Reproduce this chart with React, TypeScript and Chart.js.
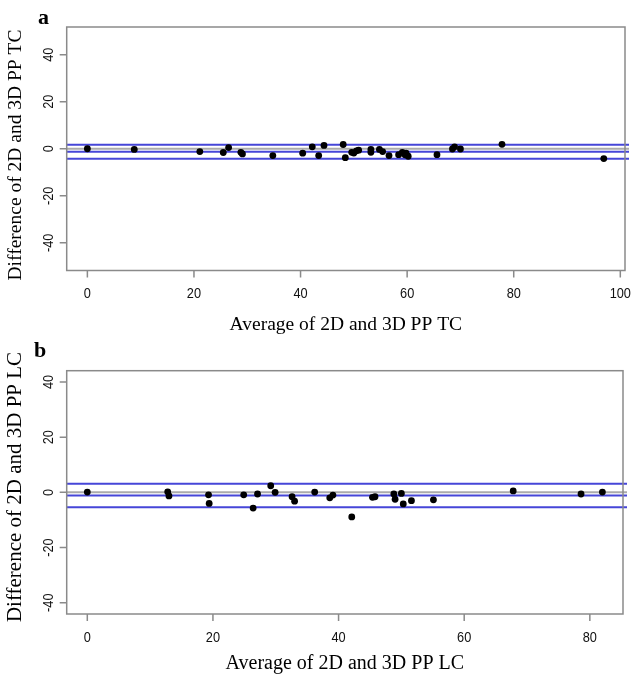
import React, { useEffect, useRef } from "react";
import { Chart, registerables } from "chart.js";

Chart.register(...registerables);

// ---------- Panel a: PP TC ----------
const tcAverage = [0, 8.8, 21.1, 25.5, 26.5, 28.8, 29.1, 34.8, 40.4, 42.2, 43.4, 44.4, 48.0, 48.4, 49.6, 50.0, 50.5, 50.9, 53.2, 53.2, 54.8, 55.4, 56.6, 58.4, 59.1, 59.6, 60.2, 59.8, 65.6, 68.5, 68.9, 70.0, 77.8, 96.9];
const tcDifference = [0, -0.3, -1.2, -1.6, 0.5, -1.5, -2.2, -2.9, -1.9, 0.8, -2.9, 1.4, 1.8, -3.8, -1.5, -1.8, -0.9, -0.6, -0.3, -1.5, -0.3, -1.2, -2.9, -2.5, -1.5, -2.6, -3.2, -1.9, -2.5, -0.1, 0.8, -0.1, 1.9, -4.2];
const tcMean = -1.3;
const tcUpper = 1.7;
const tcLower = -4.3;
const tcXTicks = [0, 20, 40, 60, 80, 100];
const tcXRange = [-3.88, 100.88];
const tcYRange = [-51.8, 51.8];

// ---------- Panel b: PP LC ----------
const lcAverage = [0, 12.8, 13.0, 19.3, 19.4, 24.9, 27.1, 26.4, 29.2, 29.9, 32.6, 33.0, 36.2, 38.6, 39.1, 42.1, 45.4, 45.8, 48.8, 49.0, 50.0, 50.3, 51.6, 55.1, 67.8, 78.6, 82.0];
const lcDifference = [0.1, 0.2, -1.3, -0.9, -4.0, -0.9, -0.6, -5.7, 2.4, 0.0, -1.6, -3.2, 0.1, -2.0, -1.0, -8.9, -1.8, -1.6, -0.6, -2.5, -0.4, -4.2, -3.0, -2.7, 0.5, -0.6, 0.1];
const lcMean = -1.15;
const lcUpper = 3.1;
const lcLower = -5.4;
const lcXTicks = [0, 20, 40, 60, 80];
const lcXRange = [-3.28, 85.28];
const lcYRange = [-44.1, 44.1];

const yTicks = [-40, -20, 0, 20, 40];

function condensedText(ctx: any, text: string, x: number, y: number, rot: number) {
  ctx.save();
  ctx.translate(x, y);
  if (rot) ctx.rotate(rot);
  ctx.scale(0.88, 1);
  ctx.fillText(text, 0, 0);
  ctx.restore();
}

const framePlugin = {
  id: "baFrame",
  afterDraw(chart: any, _args: any, opts: any) {
    const { ctx, chartArea: a, scales } = chart;
    const xs = scales.x;
    const ys = scales.y;
    ctx.save();
    ctx.strokeStyle = "#8a8a8a";
    ctx.lineWidth = 1.5;
    ctx.strokeRect(a.left, a.top, a.right - a.left, a.bottom - a.top);
    ctx.beginPath();
    for (const v of opts.xTicks) {
      const px = xs.getPixelForValue(v);
      ctx.moveTo(px, a.bottom);
      ctx.lineTo(px, a.bottom + 7);
    }
    for (const v of opts.yTicks) {
      const py = ys.getPixelForValue(v);
      ctx.moveTo(a.left, py);
      ctx.lineTo(a.left - 7, py);
    }
    ctx.stroke();

    ctx.fillStyle = "#111";
    ctx.font = '14.5px "Liberation Sans", Arial, sans-serif';
    ctx.textAlign = "center";
    ctx.textBaseline = "alphabetic";
    for (const v of opts.xTicks) {
      condensedText(ctx, String(v), xs.getPixelForValue(v), opts.xTickBaseline, 0);
    }
    for (const v of opts.yTicks) {
      condensedText(ctx, String(v), opts.yTickBaseline, ys.getPixelForValue(v), -Math.PI / 2);
    }

    ctx.fillStyle = "#000";
    ctx.font = `${opts.titleSize}px "Liberation Serif", "Times New Roman", serif`;
    ctx.fillText(opts.xTitle, (a.left + a.right) / 2, opts.xTitleBaseline);
    ctx.save();
    ctx.translate(opts.yTitleBaseline, opts.yTitleCenter);
    ctx.rotate(-Math.PI / 2);
    ctx.font = `${opts.yTitleSize}px "Liberation Serif", "Times New Roman", serif`;
    ctx.fillText(opts.yTitle, 0, 0);
    ctx.restore();

    ctx.font = 'bold 22px "Liberation Serif", "Times New Roman", serif';
    ctx.textAlign = "left";
    ctx.fillText(opts.letter, opts.letterX, opts.letterY);
    ctx.restore();
  },
};

type PanelProps = {
  top: number;
  height: number;
  average: number[];
  difference: number[];
  mean: number;
  upper: number;
  lower: number;
  xRange: number[];
  yRange: number[];
  padding: { left: number; right: number; top: number; bottom: number };
  frame: any;
};

function Panel(p: PanelProps) {
  const ref = useRef<HTMLCanvasElement>(null);
  useEffect(() => {
    if (!ref.current) return;
    const pts = p.average.map((x, i) => ({ x, y: p.difference[i] }));
    const hline = (y: number) => [
      { x: p.xRange[0], y },
      { x: p.xRange[1] + 2, y },
    ];
    const lineClip = { left: 0, top: 0, right: 4, bottom: 0 };
    const lineDs = (y: number, color: string) =>
      ({
        data: hline(y),
        showLine: true,
        borderColor: color,
        borderWidth: 2,
        pointRadius: 0,
        pointHoverRadius: 0,
        clip: lineClip,
      } as any);
    const chart = new Chart(ref.current, {
      type: "scatter",
      data: {
        datasets: [
          {
            data: pts,
            pointRadius: 3.4,
            pointHoverRadius: 3.4,
            backgroundColor: "#000",
            borderWidth: 0,
            showLine: false,
          },
          lineDs(p.upper, "#4646d8"),
          lineDs(p.mean, "#4646d8"),
          lineDs(p.lower, "#4646d8"),
          lineDs(0, "#ababab"),
        ],
      },
      options: {
        responsive: false,
        animation: false,
        devicePixelRatio: 1,
        layout: { padding: p.padding },
        scales: {
          x: { type: "linear", min: p.xRange[0], max: p.xRange[1], display: false },
          y: { type: "linear", min: p.yRange[0], max: p.yRange[1], display: false },
        },
        plugins: {
          legend: { display: false },
          tooltip: { enabled: false },
          baFrame: p.frame,
        } as any,
      },
      plugins: [framePlugin],
    });
    return () => chart.destroy();
  }, []);
  return (
    <canvas
      ref={ref}
      width={633}
      height={p.height}
      style={{ position: "absolute", left: 0, top: p.top, width: 633, height: p.height }}
    />
  );
}

export default function App() {
  return (
    <div style={{ position: "absolute", left: 0, top: 0, width: 633, height: 676, background: "#fff" }}>
      <Panel
        top={0}
        height={338}
        average={tcAverage}
        difference={tcDifference}
        mean={tcMean}
        upper={tcUpper}
        lower={tcLower}
        xRange={tcXRange}
        yRange={tcYRange}
        padding={{ left: 66.7, right: 8, top: 27, bottom: 67.5 }}
        frame={{
          xTicks: tcXTicks,
          yTicks,
          xTickBaseline: 298,
          yTickBaseline: 53,
          xTitle: "Average of 2D and 3D PP TC",
          yTitle: "Difference of 2D and 3D PP TC",
          titleSize: 19.5,
          yTitleSize: 19.5,
          xTitleBaseline: 330,
          yTitleBaseline: 21,
          yTitleCenter: 155,
          letter: "a",
          letterX: 38,
          letterY: 24,
        }}
      />
      <Panel
        top={338}
        height={338}
        average={lcAverage}
        difference={lcDifference}
        mean={lcMean}
        upper={lcUpper}
        lower={lcLower}
        xRange={lcXRange}
        yRange={lcYRange}
        padding={{ left: 66.7, right: 10, top: 32.7, bottom: 62 }}
        frame={{
          xTicks: lcXTicks,
          yTicks,
          xTickBaseline: 304,
          yTickBaseline: 53,
          xTitle: "Average of 2D and 3D PP LC",
          yTitle: "Difference of 2D and 3D PP LC",
          titleSize: 20,
          yTitleSize: 21,
          xTitleBaseline: 331,
          yTitleBaseline: 21,
          yTitleCenter: 149,
          letter: "b",
          letterX: 34,
          letterY: 19,
        }}
      />
    </div>
  );
}
